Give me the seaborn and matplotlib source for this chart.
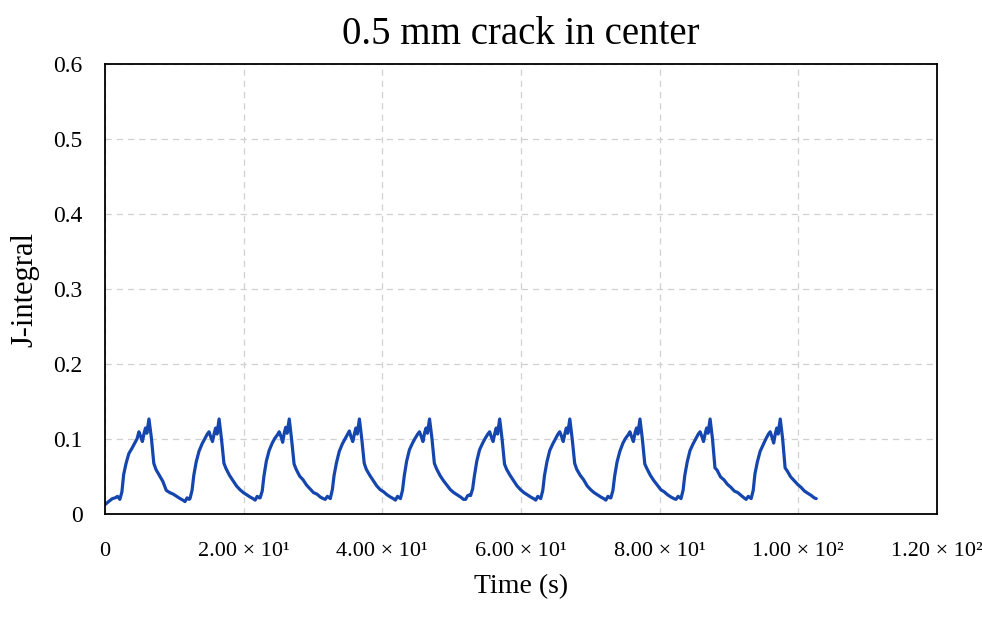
import matplotlib
matplotlib.use("Agg")
import matplotlib.pyplot as plt
import seaborn as sns
import pandas as pd

# ---- data ----
time_s = [
    0.00, 0.50, 1.05, 1.45, 1.80,
    2.13, 2.43, 2.68, 3.03, 3.43, 3.88, 4.23, 4.63, 4.88, 5.13, 5.38, 5.63, 5.83, 6.03, 6.33,
    6.68, 7.03, 7.33, 7.83, 8.33, 8.83, 9.33, 9.83, 10.33, 10.83, 11.23, 11.53, 11.83, 12.13,
    12.25, 12.55, 12.80, 13.15, 13.55, 14.00, 14.35, 14.75, 15.00, 15.25, 15.50, 15.75, 15.95, 16.15, 16.45,
    16.80, 17.15, 17.45, 17.95, 18.45, 18.95, 19.45, 19.95, 20.45, 20.95, 21.35, 21.65, 21.95, 22.25,
    22.37, 22.67, 22.92, 23.27, 23.67, 24.12, 24.47, 24.87, 25.12, 25.37, 25.62, 25.87, 26.07, 26.27, 26.57,
    26.92, 27.27, 27.57, 28.07, 28.57, 29.07, 29.57, 30.07, 30.57, 31.07, 31.47, 31.77, 32.07, 32.37,
    32.49, 32.79, 33.04, 33.39, 33.79, 34.24, 34.59, 34.99, 35.24, 35.49, 35.74, 35.99, 36.19, 36.39, 36.69,
    37.04, 37.39, 37.69, 38.19, 38.69, 39.19, 39.69, 40.19, 40.69, 41.19, 41.59, 41.89, 42.19, 42.49,
    42.61, 42.91, 43.16, 43.51, 43.91, 44.36, 44.71, 45.11, 45.36, 45.61, 45.86, 46.11, 46.31, 46.51, 46.81,
    47.16, 47.51, 47.81, 48.31, 48.81, 49.31, 49.81, 50.31, 50.81, 51.31, 51.71, 52.01, 52.31, 52.61,
    52.73, 53.03, 53.28, 53.63, 54.03, 54.48, 54.83, 55.23, 55.48, 55.73, 55.98, 56.23, 56.43, 56.63, 56.93,
    57.28, 57.63, 57.93, 58.43, 58.93, 59.43, 59.93, 60.43, 60.93, 61.43, 61.83, 62.13, 62.43, 62.73,
    62.85, 63.15, 63.40, 63.75, 64.15, 64.60, 64.95, 65.35, 65.60, 65.85, 66.10, 66.35, 66.55, 66.75, 67.05,
    67.40, 67.75, 68.05, 68.55, 69.05, 69.55, 70.05, 70.55, 71.05, 71.55, 71.95, 72.25, 72.55, 72.85,
    72.97, 73.27, 73.52, 73.87, 74.27, 74.72, 75.07, 75.47, 75.72, 75.97, 76.22, 76.47, 76.67, 76.87, 77.17,
    77.52, 77.87, 78.17, 78.67, 79.17, 79.67, 80.17, 80.67, 81.17, 81.67, 82.07, 82.37, 82.67, 82.97,
    83.09, 83.39, 83.64, 83.99, 84.39, 84.84, 85.19, 85.59, 85.84, 86.09, 86.34, 86.59, 86.79, 86.99, 87.29,
    87.64, 87.99, 88.29, 88.79, 89.29, 89.79, 90.29, 90.79, 91.29, 91.79, 92.19, 92.49, 92.79, 93.09,
    93.21, 93.51, 93.76, 94.11, 94.51, 94.96, 95.31, 95.71, 95.96, 96.21, 96.46, 96.71, 96.91, 97.11, 97.41,
    97.76, 98.11, 98.41, 98.91, 99.41, 99.91, 100.41, 100.91, 101.41, 101.91, 102.31, 102.60,
]

j_integral = [
    0.013, 0.017, 0.021, 0.022, 0.024,
    0.020, 0.030, 0.053, 0.068, 0.081, 0.088, 0.094, 0.101, 0.110, 0.104, 0.097, 0.108, 0.115, 0.108, 0.127,
    0.102, 0.068, 0.060, 0.052, 0.044, 0.032, 0.029, 0.027, 0.024, 0.021, 0.019, 0.017, 0.022, 0.020,
    0.021, 0.032, 0.052, 0.070, 0.084, 0.094, 0.100, 0.107, 0.110, 0.103, 0.097, 0.108, 0.115, 0.107, 0.127,
    0.100, 0.068, 0.061, 0.052, 0.045, 0.038, 0.033, 0.029, 0.026, 0.023, 0.021, 0.019, 0.024, 0.022,
    0.022, 0.031, 0.051, 0.071, 0.085, 0.095, 0.101, 0.106, 0.110, 0.104, 0.096, 0.109, 0.116, 0.108, 0.127,
    0.099, 0.067, 0.060, 0.051, 0.046, 0.039, 0.034, 0.029, 0.027, 0.023, 0.021, 0.020, 0.024, 0.022,
    0.021, 0.033, 0.052, 0.069, 0.084, 0.094, 0.100, 0.107, 0.111, 0.103, 0.097, 0.108, 0.115, 0.107, 0.127,
    0.100, 0.068, 0.060, 0.052, 0.045, 0.038, 0.033, 0.030, 0.026, 0.023, 0.021, 0.019, 0.024, 0.022,
    0.021, 0.032, 0.051, 0.071, 0.086, 0.095, 0.101, 0.107, 0.110, 0.104, 0.097, 0.109, 0.115, 0.108, 0.127,
    0.101, 0.068, 0.061, 0.052, 0.045, 0.039, 0.033, 0.029, 0.026, 0.023, 0.020, 0.020, 0.025, 0.026,
    0.025, 0.034, 0.051, 0.071, 0.086, 0.095, 0.101, 0.107, 0.110, 0.103, 0.097, 0.108, 0.115, 0.107, 0.127,
    0.100, 0.067, 0.060, 0.052, 0.045, 0.038, 0.033, 0.029, 0.026, 0.023, 0.021, 0.019, 0.024, 0.022,
    0.021, 0.032, 0.052, 0.070, 0.085, 0.094, 0.100, 0.107, 0.110, 0.104, 0.097, 0.108, 0.115, 0.108, 0.127,
    0.100, 0.068, 0.060, 0.052, 0.046, 0.038, 0.033, 0.029, 0.026, 0.023, 0.021, 0.019, 0.024, 0.022,
    0.022, 0.032, 0.051, 0.070, 0.084, 0.095, 0.101, 0.106, 0.110, 0.103, 0.097, 0.109, 0.115, 0.107, 0.127,
    0.100, 0.067, 0.061, 0.052, 0.045, 0.039, 0.033, 0.030, 0.026, 0.023, 0.021, 0.020, 0.024, 0.022,
    0.021, 0.032, 0.052, 0.070, 0.085, 0.094, 0.100, 0.107, 0.110, 0.104, 0.097, 0.108, 0.115, 0.108, 0.127,
    0.100, 0.062, 0.059, 0.050, 0.046, 0.040, 0.036, 0.031, 0.029, 0.025, 0.022, 0.020, 0.024, 0.022,
    0.021, 0.032, 0.054, 0.070, 0.084, 0.093, 0.100, 0.107, 0.110, 0.103, 0.095, 0.108, 0.115, 0.107, 0.127,
    0.100, 0.062, 0.058, 0.050, 0.045, 0.040, 0.036, 0.031, 0.028, 0.025, 0.022, 0.021,
]

x_ticks = [0, 20, 40, 60, 80, 100, 120]
x_tick_labels = ["0", "2.00 × 10¹", "4.00 × 10¹", "6.00 × 10¹",
                 "8.00 × 10¹", "1.00 × 10²", "1.20 × 10²"]
y_ticks = [0, 0.1, 0.2, 0.3, 0.4, 0.5, 0.6]
y_tick_labels = ["0", "0.1", "0.2", "0.3", "0.4", "0.5", "0.6"]

df = pd.DataFrame({"Time (s)": time_s, "J-integral": j_integral})

# ---- style ----
sns.set_style("white")
plt.rcParams["font.family"] = ["Liberation Serif", "DejaVu Serif"]
plt.rcParams["text.color"] = "black"
plt.rcParams["axes.labelcolor"] = "black"
plt.rcParams["xtick.color"] = "black"
plt.rcParams["ytick.color"] = "black"

fig = plt.figure(figsize=(9.82, 6.19), dpi=100)
ax = fig.add_axes([0.107, 0.169, 0.847, 0.728])

sns.lineplot(data=df, x="Time (s)", y="J-integral", ax=ax,
             color="#1546ae", linewidth=2.3, sort=False, estimator=None)

ax.set_xlim(0, 120)
ax.set_ylim(0, 0.6)
ax.set_xticks(x_ticks)
ax.set_xticklabels(x_tick_labels, fontsize=16)
ax.set_yticks(y_ticks)
ax.set_yticklabels(y_tick_labels, fontsize=17)
ax.tick_params(axis="both", direction="out", length=5, width=1.2,
               color="black", labelcolor="black")
ax.tick_params(axis="x", pad=15)
ax.tick_params(axis="y", pad=11)

ax.grid(True, linestyle=(0, (5, 4)), color="#d0d0d0", linewidth=0.9)
for s in ax.spines.values():
    s.set_color("black")
    s.set_linewidth(1.3)

ax.set_xlabel("Time (s)", fontsize=20, labelpad=9, color="black")
ax.set_ylabel("J-integral", fontsize=22, labelpad=10, color="black")
ax.set_title("0.5 mm crack in center", fontsize=28, pad=14, color="black")

fig.savefig("out.png", dpi=100, facecolor="white")
